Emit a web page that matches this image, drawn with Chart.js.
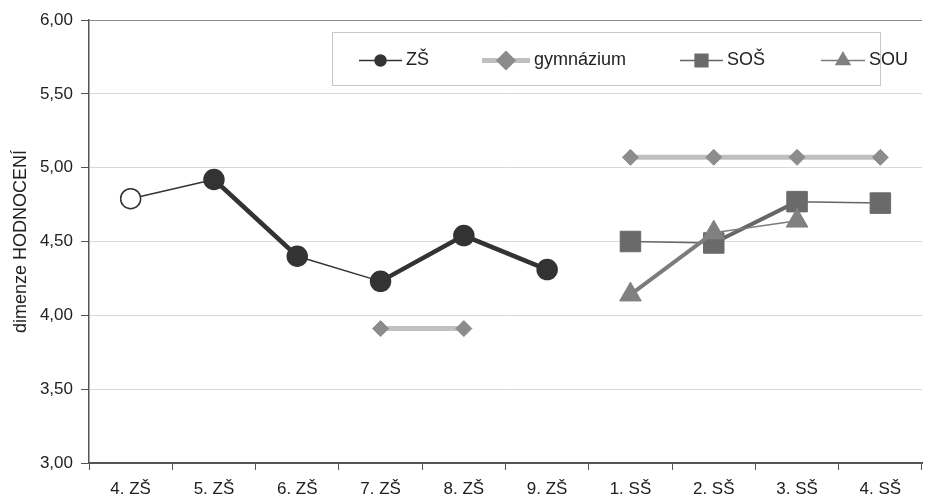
<!DOCTYPE html>
<html lang="cs">
<head>
<meta charset="utf-8">
<title>dimenze HODNOCENÍ</title>
<script src="https://cdn.jsdelivr.net/npm/chart.js@4.4.1/dist/chart.umd.min.js"></script>
<style>
  html, body { margin: 0; padding: 0; background: #fff; }
  canvas { display: block; }
</style>
</head>
<body>
<canvas id="chart" width="940" height="497"></canvas>
<script>
// kategorie na ose x
const categories = ['4. ZŠ', '5. ZŠ', '6. ZŠ', '7. ZŠ', '8. ZŠ', '9. ZŠ', '1. SŠ', '2. SŠ', '3. SŠ', '4. SŠ'];

// hodnoty řad (null = bez hodnoty)
const zsValues = [4.79, 4.92, 4.40, 4.23, 4.54, 4.31, null, null, null, null];
const gymValues = [null, null, null, 3.91, 3.91, null, 5.07, 5.07, 5.07, 5.07];
const sosValues = [null, null, null, null, null, null, 4.50, 4.49, 4.77, 4.76];
const souValues = [null, null, null, null, null, null, 4.14, 4.56, 4.64, null];

// popisky osy y
const yTicks = [3, 3.5, 4, 4.5, 5, 5.5, 6];

// úseky, které jsou kreslené silnou čarou (index počátečního bodu)
const zsThick = [1, 3, 4];
const sosThick = [7];
const souThick = [6];

const FONT = '"Liberation Sans", Arial, sans-serif';

// legenda v rámečku jako v Excelu
const legendBox = {
    id: 'legendBox',
    afterDraw(chart, args, opts) {
        const ctx = chart.ctx;
        ctx.save();
        ctx.fillStyle = '#fff';
        ctx.fillRect(opts.x, opts.y, opts.w, opts.h);
        ctx.strokeStyle = '#c8c8c8';
        ctx.lineWidth = 1;
        ctx.strokeRect(opts.x + 0.5, opts.y + 0.5, opts.w, opts.h);

        const cy = opts.y + opts.h / 2 + 2;
        chart.data.datasets.forEach((ds, i) => {
            const x0 = opts.items[i];
            const sw = opts.sampleW[i];
            ctx.strokeStyle = ds.borderColor;
            ctx.lineWidth = ds.legendLine;
            ctx.beginPath();
            ctx.moveTo(x0, cy);
            ctx.lineTo(x0 + sw, cy);
            ctx.stroke();

            ctx.fillStyle = ds.pointBorderColor;
            ctx.strokeStyle = ds.pointBorderColor;
            Chart.helpers.drawPoint(ctx, {
                pointStyle: ds.pointStyle,
                radius: ds.legendRadius,
                rotation: 0,
                borderWidth: 1
            }, x0 + sw / 2, cy);

            ctx.fillStyle = '#222';
            ctx.font = '18px ' + FONT;
            ctx.textBaseline = 'middle';
            ctx.fillText(ds.label, x0 + sw + 4, cy);
        });
        ctx.restore();
    }
};

const chart = new Chart(document.getElementById('chart'), {
    type: 'line',
    data: {
        labels: categories,
        datasets: [{
            label: 'ZŠ',
            data: zsValues,
            order: 4,
            borderColor: '#333',
            pointBorderColor: '#333',
            pointBackgroundColor: zsValues.map((v, i) => i === 0 ? '#fff' : '#333'),
            pointStyle: 'circle',
            pointRadius: 10,
            pointBorderWidth: 1.5,
            segment: { borderWidth: c => zsThick.includes(c.p0DataIndex) ? 4.5 : 1.5 },
            legendLine: 1.5,
            legendRadius: 5.5
        }, {
            label: 'gymnázium',
            data: gymValues,
            order: 3,
            borderColor: '#c0c0c0',
            borderWidth: 5,
            pointBorderColor: '#8c8c8c',
            pointBackgroundColor: '#8c8c8c',
            pointStyle: 'rectRot',
            pointRadius: 8,
            pointBorderWidth: 1,
            legendLine: 5,
            legendRadius: 6.5
        }, {
            label: 'SOŠ',
            data: sosValues,
            order: 2,
            borderColor: '#666',
            pointBorderColor: '#6a6a6a',
            pointBackgroundColor: '#6a6a6a',
            pointStyle: 'rect',
            pointRadius: 14.5,
            pointBorderWidth: 1,
            segment: { borderWidth: c => sosThick.includes(c.p0DataIndex) ? 4 : 1.5 },
            legendLine: 1.5,
            legendRadius: 9
        }, {
            label: 'SOU',
            data: souValues,
            order: 1,
            borderColor: '#7c7c7c',
            pointBorderColor: '#808080',
            pointBackgroundColor: '#808080',
            pointStyle: 'triangle',
            pointRadius: 12.5,
            pointBorderWidth: 1,
            segment: { borderWidth: c => souThick.includes(c.p0DataIndex) ? 4 : 1.5 },
            legendLine: 1.5,
            legendRadius: 8
        }]
    },
    options: {
        responsive: false,
        devicePixelRatio: 1,
        animation: false,
        spanGaps: false,
        layout: { padding: { top: 20, right: 18, left: 0, bottom: 0 } },
        plugins: {
            legend: { display: false },
            tooltip: { enabled: false },
            legendBox: {
                x: 332, y: 32, w: 548, h: 53,
                items: [359, 482, 680, 821],
                sampleW: [43, 48, 43, 44]
            }
        },
        scales: {
            x: {
                offset: true,
                grid: {
                    offset: true,
                    drawOnChartArea: false,
                    tickLength: 7,
                    color: '#555'
                },
                border: { color: '#555', width: 2 },
                ticks: {
                    color: '#222',
                    padding: 9,
                    maxRotation: 0,
                    autoSkip: false,
                    font: { family: FONT, size: 17 }
                },
                afterFit(scale) { scale.height = 34; }
            },
            y: {
                min: 3,
                max: 6,
                afterBuildTicks(scale) { scale.ticks = yTicks.map(v => ({ value: v })); },
                grid: {
                    color: c => c.tick && c.tick.value === 6 ? '#8c8c8c' : '#d9d9d9',
                    tickColor: '#555',
                    tickLength: 8
                },
                border: { color: '#555', width: 1.5 },
                ticks: {
                    color: '#222',
                    padding: 8,
                    font: { family: FONT, size: 17 },
                    callback: v => v.toFixed(2).replace('.', ',')
                },
                title: {
                    display: true,
                    text: 'dimenze HODNOCENÍ',
                    color: '#222',
                    padding: { top: 10, bottom: 0 },
                    font: { family: FONT, size: 18 }
                },
                afterFit(scale) { scale.width = 89; }
            }
        }
    },
    plugins: [legendBox]
});
</script>
</body>
</html>
